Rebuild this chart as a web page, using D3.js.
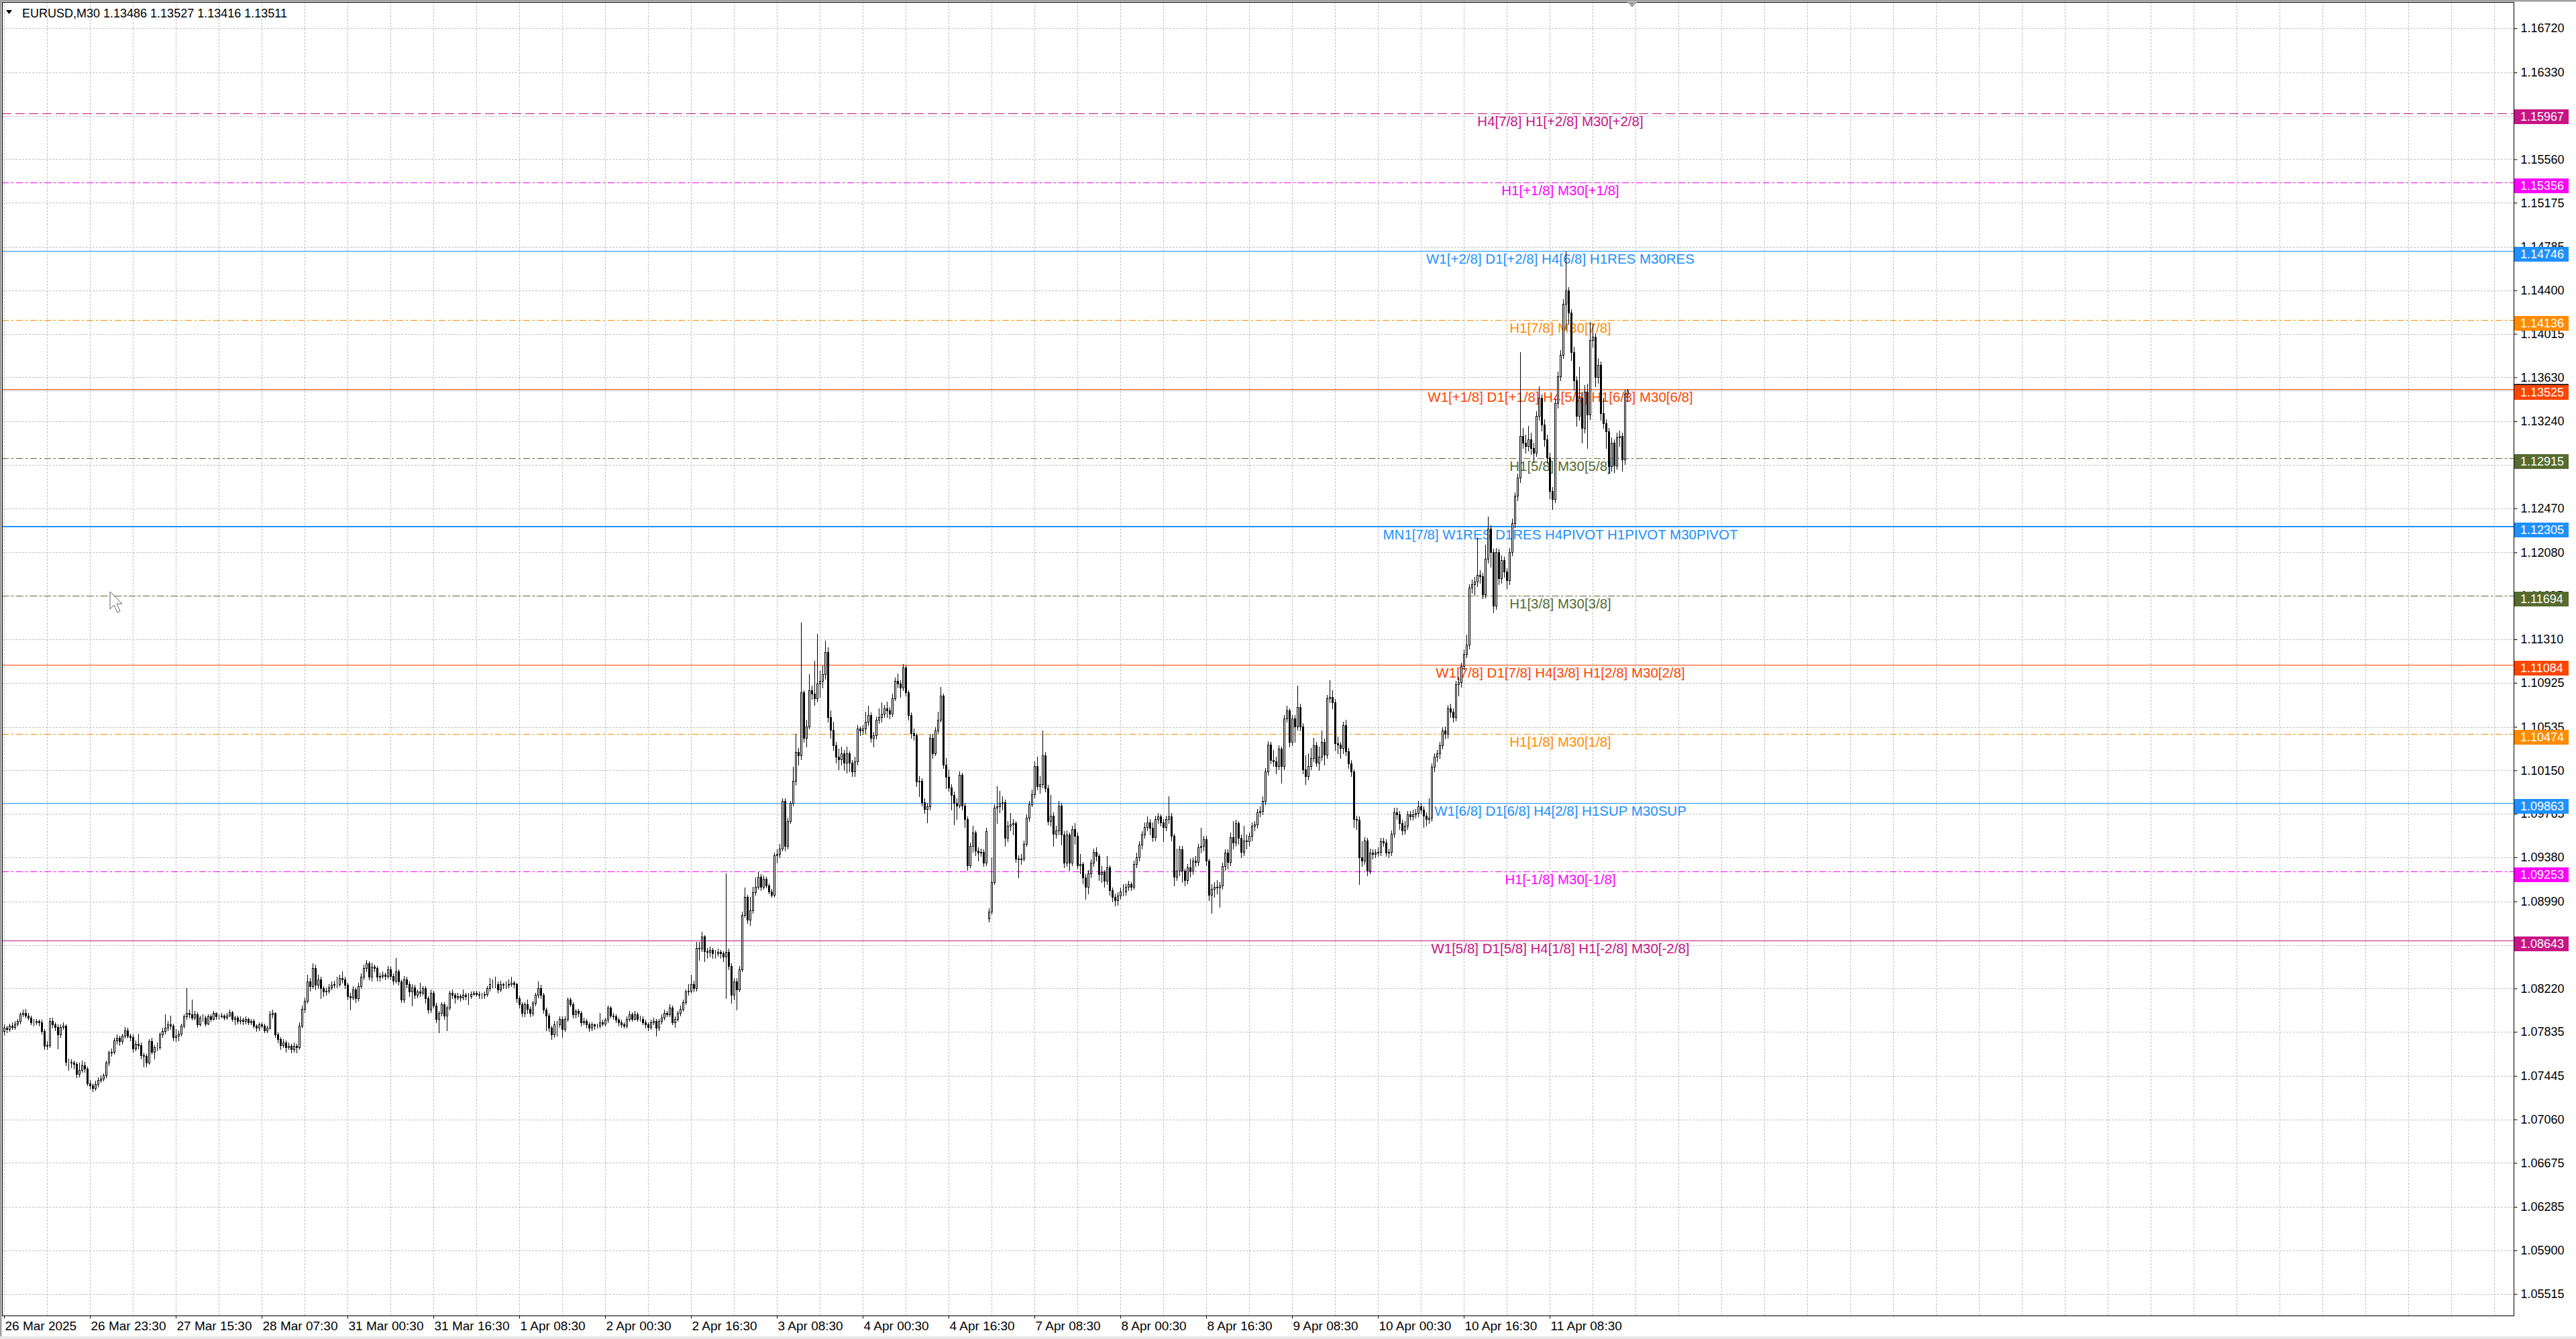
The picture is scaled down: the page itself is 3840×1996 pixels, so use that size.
<!DOCTYPE html>
<html>
<head>
<meta charset="utf-8">
<script src="https://cdn.jsdelivr.net/npm/d3@7"></script>
<style>
  html, body { margin: 0; padding: 0; background: #fff; }
  svg { display: block; }
</style>
</head>
<body>
<script>
// EURUSD M30 with Murrey math levels, 26 Mar - 11 Apr 2025

// x axis labels, one every 32 bars
const timeLabels = ["26 Mar 2025", "26 Mar 23:30", "27 Mar 15:30", "28 Mar 07:30", "31 Mar 00:30",
  "31 Mar 16:30", "1 Apr 08:30", "2 Apr 00:30", "2 Apr 16:30", "3 Apr 08:30", "4 Apr 00:30",
  "4 Apr 16:30", "7 Apr 08:30", "8 Apr 00:30", "8 Apr 16:30", "9 Apr 08:30", "10 Apr 00:30",
  "10 Apr 16:30", "11 Apr 08:30"];

// price axis labels
const priceTicks = [1.16720, 1.16330, 1.15945, 1.15560, 1.15175, 1.14785, 1.14400, 1.14015, 1.13630,
  1.13240, 1.12855, 1.12470, 1.12080, 1.11695, 1.11310, 1.10925, 1.10535, 1.10150, 1.09765, 1.09380,
  1.08990, 1.08605, 1.08220, 1.07835, 1.07445, 1.07060, 1.06675, 1.06285, 1.05900, 1.05515];

// murrey levels
const levelPrices = [1.15967, 1.15356, 1.14746, 1.14136, 1.13525, 1.12915, 1.12305, 1.11694, 1.11084,
  1.10474, 1.09863, 1.09253, 1.08643];
const levelNames = ["H4[7/8] H1[+2/8] M30[+2/8]", "H1[+1/8] M30[+1/8]",
  "W1[+2/8] D1[+2/8] H4[6/8] H1RES M30RES", "H1[7/8] M30[7/8]",
  "W1[+1/8] D1[+1/8] H4[5/8] H1[6/8] M30[6/8]", "H1[5/8] M30[5/8]",
  "MN1[7/8] W1RES D1RES H4PIVOT H1PIVOT M30PIVOT", "H1[3/8] M30[3/8]",
  "W1[7/8] D1[7/8] H4[3/8] H1[2/8] M30[2/8]", "H1[1/8] M30[1/8]",
  "W1[6/8] D1[6/8] H4[2/8] H1SUP M30SUP", "H1[-1/8] M30[-1/8]",
  "W1[5/8] D1[5/8] H4[1/8] H1[-2/8] M30[-2/8]"];

const bidPrice = 1.13511;

// candles [open, high, low, close], 32 bars per block (block start = x label)
const b00 = [
  [1.0784,1.0790,1.0781,1.0787],[1.0787,1.0789,1.0783,1.0786],[1.0786,1.0791,1.0784,1.0789],[1.0789,1.0792,1.0786,1.0788],
  [1.0788,1.0793,1.0786,1.0791],[1.0791,1.0795,1.0789,1.0793],[1.0793,1.0801,1.0791,1.0799],[1.0799,1.0803,1.0797,1.0800],
  [1.0800,1.0804,1.0796,1.0798],[1.0798,1.0800,1.0794,1.0796],[1.0796,1.0798,1.0790,1.0792],[1.0792,1.0795,1.0789,1.0792],
  [1.0792,1.0795,1.0790,1.0793],[1.0793,1.0794,1.0789,1.0792],[1.0792,1.0794,1.0782,1.0784],[1.0784,1.0786,1.0768,1.0771],
  [1.0771,1.0775,1.0768,1.0772],[1.0772,1.0796,1.0770,1.0793],[1.0793,1.0796,1.0787,1.0790],[1.0790,1.0792,1.0785,1.0788],
  [1.0788,1.0790,1.0769,1.0781],[1.0781,1.0790,1.0779,1.0788],[1.0788,1.0792,1.0786,1.0789],[1.0789,1.0790,1.0754,1.0757],
  [1.0757,1.0760,1.0750,1.0757],[1.0757,1.0759,1.0752,1.0756],[1.0756,1.0758,1.0751,1.0755],[1.0755,1.0757,1.0743,1.0746],
  [1.0746,1.0756,1.0744,1.0750],[1.0750,1.0758,1.0748,1.0754],[1.0754,1.0757,1.0748,1.0751],[1.0751,1.0753,1.0736,1.0738]];
const b01 = [
  [1.0738,1.0741,1.0733,1.0736],[1.0736,1.0738,1.0731,1.0734],[1.0734,1.0740,1.0732,1.0737],[1.0737,1.0743,1.0735,1.0741],
  [1.0741,1.0745,1.0739,1.0742],[1.0742,1.0747,1.0740,1.0745],[1.0745,1.0758,1.0743,1.0756],[1.0756,1.0767,1.0754,1.0765],
  [1.0765,1.0769,1.0762,1.0766],[1.0766,1.0778,1.0764,1.0776],[1.0776,1.0781,1.0773,1.0778],[1.0778,1.0780,1.0772,1.0775],
  [1.0775,1.0782,1.0773,1.0780],[1.0780,1.0788,1.0778,1.0785],[1.0785,1.0787,1.0778,1.0780],[1.0780,1.0782,1.0776,1.0779],
  [1.0779,1.0781,1.0766,1.0769],[1.0769,1.0776,1.0767,1.0773],[1.0773,1.0782,1.0769,1.0772],[1.0772,1.0774,1.0760,1.0763],
  [1.0763,1.0765,1.0753,1.0762],[1.0762,1.0764,1.0753,1.0756],[1.0756,1.0777,1.0755,1.0775],[1.0775,1.0778,1.0764,1.0766],
  [1.0766,1.0772,1.0760,1.0770],[1.0770,1.0774,1.0767,1.0770],[1.0770,1.0783,1.0768,1.0781],[1.0781,1.0787,1.0779,1.0784],
  [1.0784,1.0799,1.0782,1.0787],[1.0787,1.0793,1.0785,1.0790],[1.0790,1.0798,1.0786,1.0789],[1.0789,1.0791,1.0776,1.0779]];
const b02 = [
  [1.0779,1.0786,1.0775,1.0780],[1.0780,1.0785,1.0776,1.0782],[1.0782,1.0791,1.0780,1.0789],[1.0789,1.0799,1.0787,1.0797],
  [1.0797,1.0822,1.0795,1.0800],[1.0800,1.0803,1.0796,1.0799],[1.0799,1.0812,1.0794,1.0796],[1.0796,1.0802,1.0794,1.0799],
  [1.0799,1.0801,1.0788,1.0790],[1.0790,1.0798,1.0789,1.0796],[1.0796,1.0799,1.0793,1.0796],[1.0796,1.0798,1.0789,1.0791],
  [1.0791,1.0799,1.0790,1.0797],[1.0797,1.0799,1.0793,1.0795],[1.0795,1.0802,1.0794,1.0800],[1.0800,1.0801,1.0795,1.0797],
  [1.0797,1.0799,1.0795,1.0797],[1.0797,1.0800,1.0796,1.0798],[1.0798,1.0799,1.0794,1.0796],[1.0796,1.0800,1.0795,1.0798],
  [1.0798,1.0803,1.0797,1.0801],[1.0801,1.0802,1.0793,1.0795],[1.0795,1.0798,1.0790,1.0796],[1.0796,1.0798,1.0791,1.0793],
  [1.0793,1.0797,1.0791,1.0794],[1.0794,1.0796,1.0790,1.0793],[1.0793,1.0797,1.0791,1.0795],[1.0795,1.0796,1.0790,1.0792],
  [1.0792,1.0795,1.0790,1.0793],[1.0793,1.0795,1.0787,1.0789],[1.0789,1.0790,1.0784,1.0787],[1.0787,1.0792,1.0785,1.0790]];
const b03 = [
  [1.0790,1.0792,1.0787,1.0789],[1.0789,1.0791,1.0783,1.0785],[1.0785,1.0789,1.0783,1.0787],[1.0787,1.0802,1.0786,1.0799],
  [1.0799,1.0803,1.0796,1.0800],[1.0800,1.0801,1.0779,1.0781],[1.0781,1.0783,1.0774,1.0777],[1.0777,1.0779,1.0768,1.0772],
  [1.0772,1.0777,1.0770,1.0774],[1.0774,1.0776,1.0766,1.0770],[1.0770,1.0774,1.0768,1.0771],[1.0771,1.0773,1.0765,1.0768],
  [1.0768,1.0774,1.0766,1.0771],[1.0771,1.0773,1.0765,1.0770],[1.0770,1.0792,1.0768,1.0789],[1.0789,1.0807,1.0787,1.0804],
  [1.0804,1.0814,1.0801,1.0811],[1.0811,1.0834,1.0809,1.0828],[1.0828,1.0831,1.0820,1.0824],[1.0824,1.0844,1.0822,1.0840],
  [1.0840,1.0843,1.0821,1.0825],[1.0825,1.0834,1.0822,1.0830],[1.0830,1.0832,1.0813,1.0822],[1.0822,1.0824,1.0815,1.0819],
  [1.0819,1.0823,1.0816,1.0820],[1.0820,1.0826,1.0818,1.0823],[1.0823,1.0828,1.0821,1.0825],[1.0825,1.0829,1.0823,1.0826],
  [1.0826,1.0832,1.0823,1.0826],[1.0826,1.0834,1.0824,1.0831],[1.0831,1.0837,1.0827,1.0830],[1.0830,1.0832,1.0822,1.0825]];
const b04 = [
  [1.0825,1.0827,1.0812,1.0815],[1.0815,1.0818,1.0803,1.0814],[1.0814,1.0824,1.0812,1.0821],[1.0821,1.0823,1.0810,1.0813],
  [1.0813,1.0827,1.0811,1.0824],[1.0824,1.0835,1.0822,1.0832],[1.0832,1.0843,1.0830,1.0840],[1.0840,1.0847,1.0837,1.0844],
  [1.0844,1.0846,1.0830,1.0832],[1.0832,1.0845,1.0829,1.0841],[1.0841,1.0843,1.0837,1.0840],[1.0840,1.0842,1.0829,1.0832],
  [1.0832,1.0836,1.0829,1.0833],[1.0833,1.0837,1.0831,1.0834],[1.0834,1.0836,1.0830,1.0833],[1.0833,1.0842,1.0831,1.0839],
  [1.0839,1.0841,1.0830,1.0833],[1.0833,1.0835,1.0826,1.0829],[1.0829,1.0849,1.0827,1.0837],[1.0837,1.0839,1.0825,1.0828],
  [1.0828,1.0830,1.0810,1.0812],[1.0812,1.0833,1.0810,1.0830],[1.0830,1.0832,1.0823,1.0826],[1.0826,1.0828,1.0815,1.0819],
  [1.0819,1.0826,1.0807,1.0823],[1.0823,1.0825,1.0813,1.0816],[1.0816,1.0821,1.0814,1.0819],[1.0819,1.0827,1.0815,1.0818],
  [1.0818,1.0824,1.0816,1.0822],[1.0822,1.0824,1.0809,1.0813],[1.0813,1.0815,1.0800,1.0803],[1.0803,1.0821,1.0801,1.0818]];
const b05 = [
  [1.0818,1.0820,1.0805,1.0807],[1.0807,1.0809,1.0792,1.0795],[1.0795,1.0802,1.0783,1.0800],[1.0800,1.0810,1.0798,1.0808],
  [1.0808,1.0810,1.0795,1.0798],[1.0798,1.0807,1.0785,1.0805],[1.0805,1.0820,1.0803,1.0818],[1.0818,1.0821,1.0813,1.0816],
  [1.0816,1.0818,1.0809,1.0814],[1.0814,1.0818,1.0812,1.0815],[1.0815,1.0817,1.0811,1.0814],[1.0814,1.0821,1.0812,1.0816],
  [1.0816,1.0818,1.0812,1.0815],[1.0815,1.0818,1.0808,1.0815],[1.0815,1.0819,1.0813,1.0817],[1.0817,1.0820,1.0816,1.0818],
  [1.0818,1.0820,1.0815,1.0817],[1.0817,1.0819,1.0813,1.0816],[1.0816,1.0818,1.0813,1.0816],[1.0816,1.0819,1.0813,1.0817],
  [1.0817,1.0824,1.0815,1.0822],[1.0822,1.0831,1.0820,1.0826],[1.0826,1.0830,1.0823,1.0826],[1.0826,1.0832,1.0823,1.0826],
  [1.0826,1.0828,1.0818,1.0821],[1.0821,1.0829,1.0819,1.0826],[1.0826,1.0827,1.0822,1.0825],[1.0825,1.0828,1.0822,1.0825],
  [1.0825,1.0830,1.0823,1.0826],[1.0826,1.0832,1.0824,1.0827],[1.0827,1.0829,1.0823,1.0826],[1.0826,1.0827,1.0810,1.0813]];
const b06 = [
  [1.0813,1.0815,1.0805,1.0808],[1.0808,1.0810,1.0797,1.0800],[1.0800,1.0810,1.0797,1.0808],[1.0808,1.0812,1.0800,1.0804],
  [1.0804,1.0806,1.0797,1.0800],[1.0800,1.0811,1.0798,1.0809],[1.0809,1.0818,1.0807,1.0816],[1.0816,1.0828,1.0814,1.0822],
  [1.0822,1.0825,1.0813,1.0816],[1.0816,1.0818,1.0800,1.0803],[1.0803,1.0805,1.0785,1.0798],[1.0798,1.0800,1.0784,1.0787],
  [1.0787,1.0789,1.0777,1.0781],[1.0781,1.0793,1.0779,1.0790],[1.0790,1.0793,1.0780,1.0790],[1.0790,1.0797,1.0788,1.0795],
  [1.0795,1.0797,1.0779,1.0786],[1.0786,1.0797,1.0784,1.0795],[1.0795,1.0814,1.0793,1.0812],[1.0812,1.0814,1.0806,1.0808],
  [1.0808,1.0810,1.0796,1.0799],[1.0799,1.0804,1.0796,1.0802],[1.0802,1.0804,1.0797,1.0800],[1.0800,1.0802,1.0789,1.0792],
  [1.0792,1.0796,1.0790,1.0793],[1.0793,1.0795,1.0787,1.0790],[1.0790,1.0792,1.0784,1.0787],[1.0787,1.0792,1.0785,1.0790],
  [1.0790,1.0791,1.0786,1.0789],[1.0789,1.0791,1.0787,1.0789],[1.0789,1.0800,1.0787,1.0792],[1.0792,1.0794,1.0789,1.0791]];
const b07 = [
  [1.0791,1.0796,1.0789,1.0794],[1.0794,1.0807,1.0792,1.0805],[1.0805,1.0806,1.0796,1.0798],[1.0798,1.0800,1.0795,1.0797],
  [1.0797,1.0799,1.0792,1.0794],[1.0794,1.0796,1.0789,1.0792],[1.0792,1.0794,1.0788,1.0790],[1.0790,1.0792,1.0787,1.0789],
  [1.0789,1.0797,1.0787,1.0795],[1.0795,1.0802,1.0793,1.0799],[1.0799,1.0801,1.0793,1.0795],[1.0795,1.0802,1.0794,1.0799],
  [1.0799,1.0801,1.0793,1.0795],[1.0795,1.0798,1.0793,1.0795],[1.0795,1.0797,1.0790,1.0792],[1.0792,1.0794,1.0787,1.0790],
  [1.0790,1.0792,1.0785,1.0788],[1.0788,1.0794,1.0786,1.0792],[1.0792,1.0796,1.0790,1.0793],[1.0793,1.0795,1.0780,1.0787],
  [1.0787,1.0795,1.0785,1.0793],[1.0793,1.0799,1.0791,1.0796],[1.0796,1.0803,1.0794,1.0800],[1.0800,1.0802,1.0797,1.0799],
  [1.0799,1.0808,1.0797,1.0805],[1.0805,1.0807,1.0790,1.0792],[1.0792,1.0797,1.0788,1.0795],[1.0795,1.0802,1.0793,1.0800],
  [1.0800,1.0807,1.0798,1.0804],[1.0804,1.0812,1.0802,1.0810],[1.0810,1.0821,1.0808,1.0819],[1.0819,1.0826,1.0816,1.0820]];
const b08 = [
  [1.0820,1.0834,1.0818,1.0826],[1.0826,1.0829,1.0819,1.0822],[1.0822,1.0863,1.0820,1.0858],[1.0858,1.0863,1.0847,1.0857],
  [1.0857,1.0872,1.0855,1.0868],[1.0868,1.0869,1.0846,1.0855],[1.0855,1.0858,1.0849,1.0854],[1.0854,1.0859,1.0850,1.0856],
  [1.0856,1.0858,1.0849,1.0853],[1.0853,1.0856,1.0849,1.0853],[1.0853,1.0857,1.0851,1.0854],[1.0854,1.0856,1.0849,1.0853],
  [1.0853,1.0855,1.0846,1.0850],[1.0850,1.0924,1.0813,1.0854],[1.0854,1.0857,1.0839,1.0842],[1.0842,1.0844,1.0809,1.0816],
  [1.0816,1.0831,1.0812,1.0828],[1.0828,1.0831,1.0803,1.0821],[1.0821,1.0842,1.0819,1.0839],[1.0839,1.0890,1.0837,1.0887],
  [1.0887,1.0911,1.0885,1.0903],[1.0903,1.0905,1.0880,1.0883],[1.0883,1.0903,1.0878,1.0891],[1.0891,1.0912,1.0889,1.0907],
  [1.0907,1.0920,1.0905,1.0912],[1.0912,1.0925,1.0910,1.0921],[1.0921,1.0923,1.0909,1.0912],[1.0912,1.0922,1.0910,1.0919],
  [1.0919,1.0921,1.0911,1.0913],[1.0913,1.0915,1.0906,1.0908],[1.0908,1.0910,1.0903,1.0905],[1.0905,1.0942,1.0903,1.0940]];
const b09 = [
  [1.0940,1.0945,1.0933,1.0941],[1.0941,1.0950,1.0938,1.0946],[1.0946,1.0990,1.0944,1.0988],[1.0988,1.0990,1.0944,1.0948],
  [1.0948,1.0973,1.0946,1.0970],[1.0970,1.0988,1.0968,1.0986],[1.0986,1.1018,1.0984,1.1006],[1.1006,1.1047,1.1002,1.1031],
  [1.1031,1.1035,1.1020,1.1028],[1.1028,1.1146,1.1025,1.1084],[1.1084,1.1086,1.1040,1.1044],[1.1044,1.1060,1.1036,1.1054],
  [1.1054,1.1100,1.1052,1.1086],[1.1086,1.1090,1.1078,1.1083],[1.1083,1.1112,1.1073,1.1079],[1.1079,1.1136,1.1076,1.1092],
  [1.1092,1.1103,1.1080,1.1094],[1.1094,1.1108,1.1088,1.1100],[1.1100,1.1130,1.1096,1.1120],[1.1120,1.1124,1.1058,1.1062],
  [1.1062,1.1068,1.1044,1.1051],[1.1051,1.1058,1.1033,1.1037],[1.1037,1.1040,1.1022,1.1027],[1.1027,1.1034,1.1016,1.1025],
  [1.1025,1.1036,1.1020,1.1030],[1.1030,1.1033,1.1015,1.1022],[1.1022,1.1036,1.1013,1.1030],[1.1030,1.1032,1.1014,1.1022],
  [1.1022,1.1024,1.1010,1.1014],[1.1014,1.1027,1.1010,1.1023],[1.1023,1.1055,1.1020,1.1052],[1.1052,1.1054,1.1046,1.1050]];
const b10 = [
  [1.1050,1.1055,1.1047,1.1052],[1.1052,1.1067,1.1048,1.1058],[1.1058,1.1072,1.1055,1.1064],[1.1064,1.1066,1.1040,1.1044],
  [1.1044,1.1049,1.1036,1.1046],[1.1046,1.1063,1.1043,1.1060],[1.1060,1.1070,1.1057,1.1062],[1.1062,1.1075,1.1058,1.1065],
  [1.1065,1.1073,1.1062,1.1070],[1.1070,1.1076,1.1062,1.1068],[1.1068,1.1071,1.1061,1.1065],[1.1065,1.1083,1.1063,1.1079],
  [1.1079,1.1097,1.1077,1.1094],[1.1094,1.1101,1.1088,1.1092],[1.1092,1.1095,1.1080,1.1088],[1.1088,1.1109,1.1086,1.1106],
  [1.1106,1.1108,1.1081,1.1084],[1.1084,1.1086,1.1060,1.1064],[1.1064,1.1066,1.1044,1.1048],[1.1048,1.1052,1.1042,1.1046],
  [1.1046,1.1048,1.1001,1.1005],[1.1005,1.1010,1.0992,1.1006],[1.1006,1.1008,1.0984,1.0987],[1.0987,1.0990,1.0977,1.0981],
  [1.0981,1.0986,1.0969,1.0983],[1.0983,1.1047,1.0980,1.1044],[1.1044,1.1047,1.1026,1.1030],[1.1030,1.1053,1.1028,1.1050],
  [1.1050,1.1067,1.1048,1.1060],[1.1060,1.1089,1.1058,1.1081],[1.1081,1.1083,1.1017,1.1020],[1.1020,1.1026,1.0999,1.1009]];
const b11 = [
  [1.1009,1.1016,1.0997,1.1000],[1.1000,1.1003,1.0980,1.0993],[1.0993,1.0996,1.0967,1.0986],[1.0986,1.0990,1.0972,1.0984],
  [1.0984,1.1014,1.0982,1.1011],[1.1011,1.1013,1.0980,1.0984],[1.0984,1.0986,1.0965,1.0972],[1.0972,1.0974,1.0927,1.0931],
  [1.0931,1.0951,1.0929,1.0948],[1.0948,1.0966,1.0943,1.0960],[1.0960,1.0962,1.0940,1.0944],[1.0944,1.0947,1.0935,1.0942],
  [1.0942,1.0946,1.0939,1.0943],[1.0943,1.0945,1.0930,1.0933],[1.0933,1.0964,1.0931,1.0961],[1.0884,1.0893,1.0881,1.0890],
  [1.0890,1.0938,1.0888,1.0916],[1.0916,1.0985,1.0914,1.0982],[1.0982,1.1001,1.0968,1.0983],[1.0983,1.0997,1.0978,1.0986],
  [1.0986,1.0992,1.0980,1.0987],[1.0987,1.0989,1.0948,1.0955],[1.0955,1.0970,1.0952,1.0966],[1.0966,1.0977,1.0962,1.0967],
  [1.0967,1.0972,1.0958,1.0968],[1.0968,1.0970,1.0934,1.0937],[1.0937,1.0940,1.0920,1.0936],[1.0936,1.0941,1.0932,1.0937],
  [1.0937,1.0953,1.0935,1.0950],[1.0950,1.0976,1.0948,1.0973],[1.0973,1.0988,1.0970,1.0985],[1.0985,1.0998,1.0983,1.0994]];
const b12 = [
  [1.0994,1.1023,1.0991,1.1019],[1.1019,1.1027,1.0998,1.1001],[1.1001,1.1010,1.0995,1.1003],[1.1003,1.1050,1.1000,1.1028],
  [1.1028,1.1031,1.0996,1.0999],[1.0999,1.1002,1.0967,1.0970],[1.0970,1.0993,1.0966,1.0975],[1.0975,1.0978,1.0948,1.0959],
  [1.0959,1.0966,1.0955,1.0962],[1.0962,1.0988,1.0958,1.0984],[1.0984,1.0986,1.0949,1.0958],[1.0958,1.0961,1.0929,1.0933],
  [1.0933,1.0962,1.0930,1.0958],[1.0958,1.0960,1.0927,1.0933],[1.0933,1.0966,1.0931,1.0963],[1.0963,1.0968,1.0950,1.0957],
  [1.0957,1.0960,1.0928,1.0931],[1.0931,1.0941,1.0924,1.0932],[1.0932,1.0934,1.0915,1.0920],[1.0920,1.0923,1.0901,1.0912],
  [1.0912,1.0927,1.0906,1.0924],[1.0924,1.0936,1.0920,1.0933],[1.0933,1.0946,1.0930,1.0943],[1.0943,1.0947,1.0935,1.0939],
  [1.0939,1.0941,1.0918,1.0923],[1.0923,1.0930,1.0916,1.0925],[1.0925,1.0927,1.0912,1.0917],[1.0917,1.0939,1.0914,1.0929],
  [1.0929,1.0931,1.0905,1.0909],[1.0909,1.0911,1.0899,1.0903],[1.0903,1.0906,1.0895,1.0900],[1.0900,1.0907,1.0896,1.0904]];
const b13 = [
  [1.0904,1.0911,1.0901,1.0908],[1.0908,1.0914,1.0904,1.0908],[1.0908,1.0915,1.0905,1.0912],[1.0912,1.0917,1.0909,1.0914],
  [1.0914,1.0916,1.0909,1.0912],[1.0912,1.0935,1.0910,1.0932],[1.0932,1.0942,1.0929,1.0938],[1.0938,1.0952,1.0935,1.0949],
  [1.0949,1.0961,1.0946,1.0958],[1.0958,1.0969,1.0955,1.0965],[1.0965,1.0974,1.0962,1.0969],[1.0969,1.0972,1.0958,1.0964],
  [1.0964,1.0969,1.0952,1.0956],[1.0956,1.0975,1.0953,1.0972],[1.0972,1.0977,1.0968,1.0974],[1.0974,1.0976,1.0966,1.0969],
  [1.0969,1.0972,1.0952,1.0965],[1.0965,1.0975,1.0962,1.0972],[1.0972,1.0992,1.0968,1.0974],[1.0974,1.0977,1.0953,1.0957],
  [1.0957,1.0959,1.0913,1.0921],[1.0921,1.0946,1.0918,1.0926],[1.0926,1.0948,1.0922,1.0945],[1.0945,1.0948,1.0916,1.0926],
  [1.0926,1.0928,1.0913,1.0918],[1.0918,1.0932,1.0915,1.0929],[1.0929,1.0937,1.0921,1.0926],[1.0926,1.0938,1.0923,1.0935],
  [1.0935,1.0939,1.0930,1.0934],[1.0934,1.0950,1.0931,1.0947],[1.0947,1.0964,1.0942,1.0948],[1.0948,1.0957,1.0944,1.0954]];
const b14 = [
  [1.0954,1.0957,1.0931,1.0935],[1.0935,1.0937,1.0900,1.0905],[1.0905,1.0914,1.0889,1.0910],[1.0910,1.0916,1.0903,1.0912],
  [1.0912,1.0918,1.0906,1.0911],[1.0911,1.0916,1.0894,1.0913],[1.0913,1.0933,1.0910,1.0930],[1.0930,1.0945,1.0927,1.0942],
  [1.0942,1.0945,1.0928,1.0934],[1.0934,1.0960,1.0931,1.0956],[1.0956,1.0970,1.0946,1.0951],[1.0951,1.0971,1.0948,1.0968],
  [1.0968,1.0970,1.0950,1.0955],[1.0955,1.0958,1.0938,1.0943],[1.0943,1.0966,1.0940,1.0953],[1.0953,1.0958,1.0946,1.0952],
  [1.0952,1.0960,1.0948,1.0957],[1.0957,1.0969,1.0953,1.0966],[1.0966,1.0970,1.0962,1.0967],[1.0967,1.0981,1.0964,1.0978],
  [1.0978,1.0983,1.0974,1.0979],[1.0979,1.0992,1.0976,1.0988],[1.0988,1.1017,1.0985,1.1014],[1.1014,1.1041,1.1011,1.1038],
  [1.1038,1.1040,1.1021,1.1024],[1.1024,1.1033,1.1019,1.1023],[1.1023,1.1027,1.1012,1.1019],[1.1019,1.1037,1.1016,1.1034],
  [1.1034,1.1036,1.1004,1.1019],[1.1019,1.1064,1.1016,1.1061],[1.1061,1.1072,1.1058,1.1068],[1.1068,1.1070,1.1036,1.1040]];
const b15 = [
  [1.1040,1.1064,1.1037,1.1061],[1.1061,1.1064,1.1040,1.1054],[1.1054,1.1090,1.1051,1.1071],[1.1071,1.1074,1.1050,1.1054],
  [1.1054,1.1057,1.1012,1.1016],[1.1016,1.1028,1.1003,1.1010],[1.1010,1.1030,1.1007,1.1019],[1.1019,1.1035,1.1016,1.1026],
  [1.1026,1.1044,1.1023,1.1037],[1.1037,1.1040,1.1019,1.1022],[1.1022,1.1036,1.1015,1.1027],[1.1027,1.1050,1.1024,1.1040],
  [1.1040,1.1043,1.1020,1.1029],[1.1029,1.1082,1.1026,1.1079],[1.1079,1.1095,1.1075,1.1080],[1.1080,1.1086,1.1070,1.1075],
  [1.1075,1.1078,1.1033,1.1039],[1.1039,1.1045,1.1030,1.1038],[1.1038,1.1040,1.1026,1.1035],[1.1035,1.1058,1.1030,1.1055],
  [1.1055,1.1060,1.1028,1.1032],[1.1032,1.1035,1.1017,1.1021],[1.1021,1.1024,1.1010,1.1014],[1.1014,1.1016,1.0965,1.0972],
  [1.0972,1.0975,1.0963,1.0971],[1.0971,1.0974,1.0914,1.0938],[1.0938,1.0952,1.0930,1.0935],[1.0935,1.0956,1.0932,1.0953],
  [1.0953,1.0955,1.0922,1.0926],[1.0926,1.0946,1.0924,1.0942],[1.0942,1.0945,1.0937,1.0941],[1.0941,1.0945,1.0938,1.0942]];
const b16 = [
  [1.0942,1.0947,1.0939,1.0943],[1.0943,1.0955,1.0940,1.0952],[1.0952,1.0955,1.0948,1.0951],[1.0951,1.0954,1.0939,1.0942],
  [1.0942,1.0946,1.0938,1.0943],[1.0943,1.0962,1.0940,1.0959],[1.0959,1.0982,1.0956,1.0978],[1.0978,1.0982,1.0972,1.0976],
  [1.0976,1.0979,1.0963,1.0968],[1.0968,1.0971,1.0958,1.0962],[1.0962,1.0970,1.0959,1.0966],[1.0966,1.0979,1.0963,1.0976],
  [1.0976,1.0979,1.0971,1.0974],[1.0974,1.0980,1.0971,1.0976],[1.0976,1.0981,1.0973,1.0977],[1.0977,1.0988,1.0974,1.0983],
  [1.0983,1.0986,1.0977,1.0980],[1.0980,1.0983,1.0965,1.0975],[1.0975,1.0978,1.0966,1.0972],[1.0972,1.0990,1.0968,1.0973],
  [1.0973,1.1021,1.0970,1.1018],[1.1018,1.1030,1.1014,1.1027],[1.1027,1.1033,1.1023,1.1030],[1.1030,1.1040,1.1026,1.1037],
  [1.1037,1.1053,1.1034,1.1050],[1.1050,1.1054,1.1043,1.1047],[1.1047,1.1073,1.1044,1.1070],[1.1070,1.1074,1.1062,1.1067],
  [1.1067,1.1070,1.1058,1.1062],[1.1062,1.1094,1.1059,1.1091],[1.1091,1.1098,1.1081,1.1093],[1.1093,1.1110,1.1089,1.1107]];
const b17 = [
  [1.1107,1.1122,1.1104,1.1118],[1.1118,1.1135,1.1115,1.1126],[1.1126,1.1180,1.1123,1.1177],[1.1177,1.1184,1.1172,1.1180],
  [1.1180,1.1186,1.1170,1.1182],[1.1182,1.1221,1.1178,1.1188],[1.1188,1.1192,1.1181,1.1187],[1.1187,1.1190,1.1167,1.1171],
  [1.1171,1.1215,1.1168,1.1202],[1.1202,1.1240,1.1199,1.1229],[1.1229,1.1232,1.1195,1.1208],[1.1208,1.1211,1.1155,1.1161],
  [1.1161,1.1212,1.1158,1.1208],[1.1208,1.1211,1.1180,1.1185],[1.1185,1.1205,1.1181,1.1201],[1.1201,1.1204,1.1186,1.1191],
  [1.1191,1.1194,1.1176,1.1183],[1.1183,1.1212,1.1180,1.1208],[1.1208,1.1238,1.1205,1.1234],[1.1234,1.1261,1.1230,1.1258],
  [1.1258,1.1278,1.1254,1.1274],[1.1274,1.1385,1.1270,1.1311],[1.1311,1.1318,1.1300,1.1305],[1.1305,1.1312,1.1296,1.1302],
  [1.1302,1.1320,1.1298,1.1308],[1.1308,1.1314,1.1295,1.1300],[1.1300,1.1305,1.1288,1.1296],[1.1296,1.1333,1.1293,1.1329],
  [1.1329,1.1355,1.1325,1.1345],[1.1345,1.1348,1.1316,1.1321],[1.1321,1.1326,1.1302,1.1308],[1.1308,1.1312,1.1287,1.1292]];
const b18 = [
  [1.1292,1.1296,1.1256,1.1262],[1.1262,1.1266,1.1246,1.1255],[1.1255,1.1344,1.1252,1.1340],[1.1340,1.1368,1.1336,1.1364],
  [1.1364,1.1387,1.1360,1.1383],[1.1383,1.1432,1.1380,1.1428],[1.1428,1.1474,1.1405,1.1440],[1.1440,1.1443,1.1410,1.1420],
  [1.1420,1.1423,1.1378,1.1385],[1.1385,1.1390,1.1352,1.1360],[1.1360,1.1364,1.1320,1.1329],[1.1329,1.1372,1.1325,1.1345],
  [1.1345,1.1350,1.1305,1.1318],[1.1318,1.1356,1.1314,1.1350],[1.1350,1.1357,1.1300,1.1330],[1.1330,1.1412,1.1326,1.1396],
  [1.1396,1.1410,1.1390,1.1399],[1.1399,1.1402,1.1355,1.1363],[1.1363,1.1380,1.1358,1.1374],[1.1374,1.1377,1.1325,1.1331],
  [1.1331,1.1345,1.1318,1.1322],[1.1322,1.1326,1.1300,1.1315],[1.1315,1.1318,1.1278,1.1284],[1.1284,1.1310,1.1280,1.1305],
  [1.1305,1.1308,1.1279,1.1285],[1.1285,1.1314,1.1282,1.1310],[1.1310,1.1316,1.1302,1.1311],[1.1311,1.1314,1.1280,1.1290],
  [1.1290,1.1352,1.1286,1.13486],[1.13486,1.13527,1.13416,1.13511]];

const bars = [].concat(b00, b01, b02, b03, b04, b05, b06, b07, b08, b09,
  b10, b11, b12, b13, b14, b15, b16, b17, b18);

// ---- styles ----
const levelColor = ["#C71585", "#FF00FF", "#1E90FF", "#FF8C00", "#FF4500", "#556B2F", "#1E90FF",
  "#556B2F", "#FF4500", "#FF8C00", "#1E90FF", "#FF00FF", "#C71585"];
const levelDash = ["14,6", "10,4,3,4", null, "10,4,3,4", null, "10,4,3,4", null,
  "10,4,3,4", null, "10,4,3,4", null, "10,4,3,4", null];
const levelWidth = [1, 1, 1, 1, 1, 1, 2, 1, 1, 1, 1, 1, 1];

const W = 3840, H = 1996;
const plot = { left: 3, top: 3, right: 3747, bottom: 1961 };
const barsPerLabel = 32;
const labelCenterX = 2326;

const svg = d3.select("body").append("svg")
  .attr("width", W)
  .attr("height", H)
  .style("font-family", "'Liberation Sans', Arial, sans-serif");

svg.append("rect").attr("width", W).attr("height", H).attr("fill", "#ffffff");

svg.append("defs").append("clipPath").attr("id", "plotClip")
  .append("rect")
  .attr("x", plot.left).attr("y", plot.top)
  .attr("width", plot.right - plot.left).attr("height", plot.bottom - plot.top);

// 4 px per bar, bar 0 centred at x = 6
const xScale = d3.scaleLinear().domain([0, 1]).range([6, 10]);
const yScale = d3.scaleLinear().domain([1.05515, 1.16720]).range([1928.8, 42.1]);

const snap = (v) => Math.round(v) + 0.5;

const plotG = svg.append("g").attr("clip-path", "url(#plotClip)");

// grid
const nGrid = Math.floor((plot.right - 6) / (xScale(16) - xScale(0))) + 1;
plotG.append("g").selectAll("line")
  .data(d3.range(nGrid))
  .enter()
  .append("line")
  .attr("x1", (d) => snap(xScale(d * 16)))
  .attr("x2", (d) => snap(xScale(d * 16)))
  .attr("y1", plot.top)
  .attr("y2", plot.bottom)
  .attr("stroke", "#c0c0c0")
  .attr("stroke-dasharray", "3,2");

plotG.append("g").selectAll("line")
  .data(priceTicks)
  .enter()
  .append("line")
  .attr("x1", plot.left)
  .attr("x2", plot.right)
  .attr("y1", (d) => snap(yScale(d)))
  .attr("y2", (d) => snap(yScale(d)))
  .attr("stroke", "#c0c0c0")
  .attr("stroke-dasharray", "3,2");

// bid line
plotG.append("line")
  .attr("x1", plot.left).attr("x2", plot.right)
  .attr("y1", snap(yScale(bidPrice))).attr("y2", snap(yScale(bidPrice)))
  .attr("stroke", "#c0c0c0");

// murrey level lines
plotG.append("g").selectAll("line")
  .data(levelPrices)
  .enter()
  .append("line")
  .attr("x1", plot.left)
  .attr("x2", plot.right)
  .attr("y1", (d, i) => levelWidth[i] === 2 ? Math.round(yScale(d)) : snap(yScale(d)))
  .attr("y2", (d, i) => levelWidth[i] === 2 ? Math.round(yScale(d)) : snap(yScale(d)))
  .attr("stroke", (d, i) => levelColor[i])
  .attr("stroke-width", (d, i) => levelWidth[i])
  .attr("stroke-dasharray", (d, i) => levelDash[i]);

// level captions
plotG.append("g").selectAll("text")
  .data(levelPrices)
  .enter()
  .append("text")
  .attr("x", labelCenterX)
  .attr("y", (d) => yScale(d) + 19)
  .attr("text-anchor", "middle")
  .attr("font-size", 20.5)
  .attr("fill", (d, i) => levelColor[i])
  .text((d, i) => levelNames[i]);

// candles
const candles = plotG.append("g").attr("class", "candles");
candles.selectAll("line")
  .data(bars)
  .enter()
  .append("line")
  .attr("x1", (d, i) => Math.round(xScale(i)) + 0.5)
  .attr("x2", (d, i) => Math.round(xScale(i)) + 0.5)
  .attr("y1", (d) => Math.round(yScale(d[1])))
  .attr("y2", (d) => Math.round(yScale(d[2])) + 1)
  .attr("stroke", "#000")
  .attr("stroke-width", 1);

candles.selectAll("rect")
  .data(bars)
  .enter()
  .append("rect")
  .attr("x", (d, i) => Math.round(xScale(i)) - 0.5)
  .attr("y", (d) => Math.round(yScale(Math.max(d[0], d[3]))) + 0.5)
  .attr("width", 2)
  .attr("height", (d) => Math.max(0, Math.round(yScale(Math.min(d[0], d[3]))) - Math.round(yScale(Math.max(d[0], d[3])))))
  .attr("fill", (d) => d[3] >= d[0] ? "#ffffff" : "#000000")
  .attr("stroke", "#000")
  .attr("stroke-width", 1);

// frame
svg.append("rect")
  .attr("x", 0).attr("y", 0).attr("width", W).attr("height", 2.5)
  .attr("fill", "#a0a0a0");
svg.append("rect")
  .attr("x", 0).attr("y", 0).attr("width", 2.5).attr("height", H)
  .attr("fill", "#a0a0a0");
svg.append("rect")
  .attr("x", 0).attr("y", H - 4).attr("width", W).attr("height", 4)
  .attr("fill", "#e6e6e6");
svg.append("rect")
  .attr("x", plot.left + 0.5).attr("y", plot.top + 0.5)
  .attr("width", plot.right - plot.left).attr("height", plot.bottom - plot.top)
  .attr("fill", "none")
  .attr("stroke", "#000");

// price axis
const yAxis = d3.axisRight(yScale)
  .tickValues(priceTicks)
  .tickSize(5)
  .tickPadding(5)
  .tickFormat(d3.format(".5f"));
const yAxisG = svg.append("g")
  .attr("transform", `translate(${plot.right + 0.5},0)`)
  .call(yAxis);
yAxisG.select(".domain").remove();
yAxisG.selectAll(".tick line").attr("stroke", "#000");
yAxisG.selectAll(".tick text")
  .attr("font-size", 18)
  .attr("font-family", "'Liberation Sans', Arial, sans-serif")
  .attr("fill", "#000");

// time axis
const xAxis = d3.axisBottom(xScale)
  .tickValues(timeLabels.map((d, i) => i * barsPerLabel))
  .tickSize(4)
  .tickFormat((d) => timeLabels[d / barsPerLabel]);
const xAxisG = svg.append("g")
  .attr("transform", `translate(0,${plot.bottom + 0.5})`)
  .call(xAxis);
xAxisG.select(".domain").remove();
xAxisG.selectAll(".tick line").attr("stroke", "#000");
xAxisG.selectAll(".tick text")
  .attr("text-anchor", "start")
  .attr("x", 1)
  .attr("y", 21)
  .attr("dy", null)
  .attr("font-size", 19)
  .attr("font-family", "'Liberation Sans', Arial, sans-serif")
  .attr("fill", "#000");

// bid tag (mostly hidden)
svg.append("rect")
  .attr("x", plot.right + 1).attr("y", yScale(bidPrice) - 10)
  .attr("width", 81).attr("height", 22)
  .attr("fill", "#000");

// level price tags
const tags = svg.append("g").selectAll("g")
  .data(levelPrices)
  .enter()
  .append("g")
  .attr("transform", (d) => `translate(${plot.right + 1},${Math.round(yScale(d)) - 6})`);
tags.append("rect")
  .attr("width", 81)
  .attr("height", 22)
  .attr("fill", (d, i) => levelColor[i]);
tags.append("text")
  .attr("x", 9)
  .attr("y", 11)
  .attr("dy", "0.35em")
  .attr("font-size", 18)
  .attr("fill", "#fff")
  .text((d) => d3.format(".5f")(d));

// title
svg.append("path")
  .attr("d", "M9,15 L18,15 L13.5,21 Z")
  .attr("fill", "#000");
svg.append("text")
  .attr("x", 33)
  .attr("y", 26)
  .attr("font-size", 18)
  .attr("fill", "#000")
  .text("EURUSD,M30  1.13486 1.13527 1.13416 1.13511");

// chart shift marker
svg.append("path")
  .attr("d", "M2426,3 L2440,3 L2433,11 Z")
  .attr("fill", "#a0a0a0");

// mouse pointer
svg.append("path")
  .attr("d", "M164,882 L164,908 L170,902 L175,913 L179,911 L174,900 L182,900 Z")
  .attr("fill", "#fff")
  .attr("stroke", "#606060")
  .attr("stroke-width", 1);
</script>
</body>
</html>
